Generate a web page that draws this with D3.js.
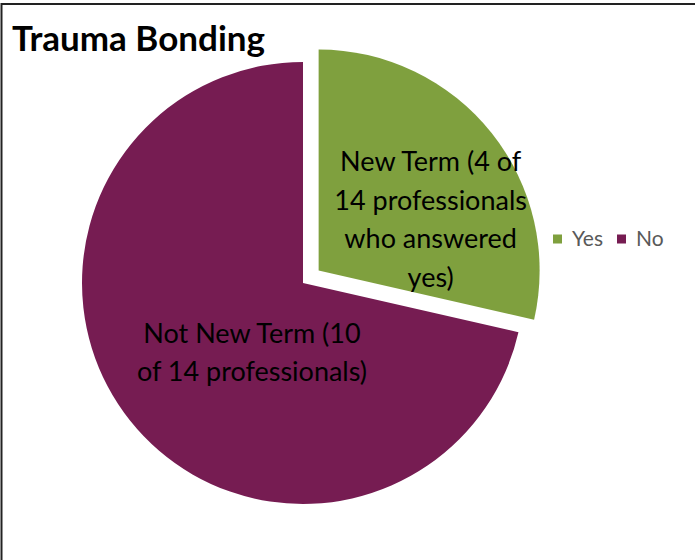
<!DOCTYPE html>
<html>
<head>
<meta charset="utf-8">
<script src="https://cdnjs.cloudflare.com/ajax/libs/d3/7.8.5/d3.min.js"></script>
<style>
	body { margin: 0; background: #fff; }
	svg { display: block; }
</style>
</head>
<body>
<svg width="695" height="560"></svg>
<script>
// data
var categories = ["Yes", "No"];
var values = [4, 10];
var sliceLabels = [
	["New Term (4 of", "14 professionals", "who answered", "yes)"],
	["Not New Term (10", "of 14 professionals)"]
];
var colors = ["#7fa03e", "#761c52"];

var svg = d3.select("svg"),
	width = +svg.attr("width"),
	height = +svg.attr("height");

// chart border (right edge runs off the picture)
svg.append("rect")
	.attr("x", 1.5).attr("y", 4)
	.attr("width", width + 10).attr("height", height + 10)
	.attr("fill", "none")
	.attr("stroke", "#222")
	.attr("stroke-width", 2);

svg.append("text")
	.attr("x", 12).attr("y", 51)
	.attr("font-family", "Lato, 'Open Sans', sans-serif")
	.attr("font-weight", "bold")
	.attr("font-size", 35)
	.attr("fill", "#000")
	.text("Trauma Bonding");

var cx = 303, cy = 283, radius = 221, explode = 20;

var g = svg.append("g").attr("transform", "translate(" + cx + "," + cy + ")");

var pie = d3.pie().sort(null).value(function(d) { return d; });
var arc = d3.arc().innerRadius(0).outerRadius(radius);
var labelArc = d3.arc().innerRadius(0).outerRadius(radius * 1.1);

var arcs = pie(values);

// Yes slice is pulled out of the pie
function shift(d, i) {
	if (i !== 0) return [0, 0];
	var a = (d.startAngle + d.endAngle) / 2;
	return [explode * Math.sin(a), -explode * Math.cos(a)];
}

g.selectAll(".slice")
	.data(arcs)
	.enter().append("path")
	.attr("class", "slice")
	.attr("d", arc)
	.attr("transform", function(d, i) { var s = shift(d, i); return "translate(" + s[0] + "," + s[1] + ")"; })
	.attr("fill", function(d, i) { return colors[i]; });

// label nudges, Excel best-fit placement
var nudge = [[17, 25], [44, -6]];
var lineH = 38.5;

g.selectAll(".lbl")
	.data(arcs)
	.enter().append("text")
	.attr("class", "lbl")
	.attr("font-family", "Lato, 'Open Sans', sans-serif")
	.attr("font-size", 27)
	.attr("fill", "#000")
	.attr("text-anchor", "middle")
	.each(function(d, i) {
		var c = labelArc.centroid(d), s = shift(d, i);
		var x = c[0] + s[0] + nudge[i][0], y = c[1] + s[1] + nudge[i][1];
		var lines = sliceLabels[i];
		var t = d3.select(this);
		lines.forEach(function(l, k) {
			t.append("tspan")
				.attr("x", x)
				.attr("y", y + (k - (lines.length - 1) / 2) * lineH)
				.attr("dy", "0.35em")
				.text(l);
		});
	});

// legend
var legend = svg.append("g").attr("transform", "translate(553,239)");
var lx = 0;
categories.forEach(function(c, i) {
	var item = legend.append("g").attr("transform", "translate(" + lx + ",0)");
	item.append("rect")
		.attr("x", 0).attr("y", -4.5)
		.attr("width", 9).attr("height", 9)
		.attr("fill", colors[i]);
	var t = item.append("text")
		.attr("x", 19).attr("y", 0).attr("dy", "0.35em")
		.attr("font-family", "Lato, 'Open Sans', sans-serif")
		.attr("font-size", 21)
		.attr("fill", "#595959")
		.text(c);
	lx += 19 + t.node().getComputedTextLength() + 14;
});
</script>
</body>
</html>
